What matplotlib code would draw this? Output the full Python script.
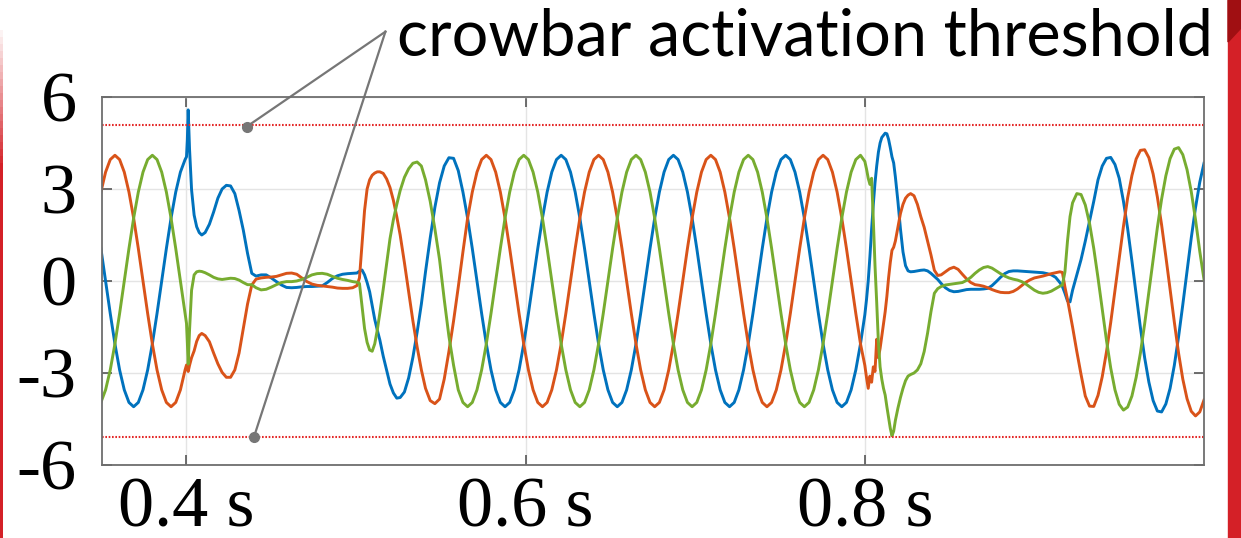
import numpy as np
import matplotlib.pyplot as plt
from matplotlib.patches import Rectangle, Polygon

# rotor currents (kA) of the three phases: a = blue, b = orange, c = green
# steady parts are sampled every dt seconds (about 15 deg of the slip frequency)
dt = 0.002758

# before the first dip
t_pre = 0.3578 + dt * np.arange(-3, 16)
ia_pre = [1.06, 0.00, -1.06, -2.05, -2.90, -3.55, -3.96, -4.10, -3.96, -3.55,
          -2.90, -2.05, -1.06, 0.00, 1.06, 2.05, 2.90, 3.55, 3.96]
ib_pre = [2.90, 3.55, 3.96, 4.10, 3.96, 3.55, 2.90, 2.05, 1.06, 0.00,
          -1.06, -2.05, -2.90, -3.55, -3.96, -4.10, -3.96, -3.55, -2.90]
ic_pre = [-3.96, -3.55, -2.90, -2.05, -1.06, 0.00, 1.06, 2.05, 2.90, 3.55,
          3.96, 4.10, 3.96, 3.55, 2.90, 2.05, 1.06, 0.00, -1.06]

# first dip, crowbar on, recovery
t_dip1 = [0.4000, 0.4005, 0.4010, 0.4018, 0.4030, 0.4045, 0.4060, 0.4075, 0.4090, 0.4110,
          0.4135, 0.4160, 0.4185, 0.4210, 0.4235, 0.4260, 0.4285, 0.4310, 0.4335, 0.4360,
          0.4385, 0.4410, 0.4440, 0.4470, 0.4500, 0.4530, 0.4560, 0.4590, 0.4620, 0.4650,
          0.4680, 0.4710, 0.4740, 0.4770, 0.4800, 0.4830, 0.4860, 0.4890, 0.4920, 0.4950,
          0.4980, 0.5005, 0.5020, 0.5035, 0.5050, 0.5065, 0.5080, 0.5095, 0.5110, 0.5125,
          0.5140, 0.5160, 0.5180, 0.5200, 0.5220, 0.5240, 0.5260, 0.5285, 0.5310, 0.5335,
          0.5360, 0.5385]
ia_dip1 = [4.05, 4.6, 5.58, 4.3, 2.97, 2.15, 1.77, 1.58, 1.50, 1.58,
           1.85, 2.25, 2.7, 3.0, 3.12, 3.1, 2.85, 2.3, 1.66, 0.9,
           0.25, 0.16, 0.2, 0.2, 0.1, -0.02, -0.13, -0.21, -0.22, -0.21,
           -0.19, -0.18, -0.18, -0.17, -0.16, -0.05, 0.08, 0.17, 0.22, 0.24,
           0.25, 0.26, 0.32, 0.36, 0.2, -0.05, -0.35, -0.8, -1.25, -1.6,
           -1.92, -2.45, -2.9, -3.36, -3.65, -3.82, -3.80, -3.62, -3.16, -2.49,
           -1.67, -0.75]
ib_dip1 = [-2.74, -2.8, -2.95, -2.75, -2.5, -2.28, -1.97, -1.78, -1.71, -1.78,
           -1.98, -2.35, -2.7, -2.98, -3.14, -3.14, -2.9, -2.35, -1.55, -0.75,
           -0.13, 0.06, 0.1, 0.12, 0.13, 0.15, 0.2, 0.25, 0.26, 0.22,
           0.1, -0.02, -0.1, -0.14, -0.16, -0.18, -0.2, -0.23, -0.24, -0.24,
           -0.22, -0.15, 0.1, 1.2, 2.3, 3.0, 3.3, 3.45, 3.52, 3.56,
           3.56, 3.51, 3.33, 3.05, 2.63, 2.1, 1.5, 0.6, -0.35, -1.3,
           -2.15, -2.9]
ic_dip1 = [-1.38, -2.0, -2.71, -1.6, -0.3, 0.2, 0.3, 0.32, 0.31, 0.27,
           0.2, 0.12, 0.07, 0.05, 0.07, 0.09, 0.08, 0.03, -0.05, -0.12,
           -0.12, -0.22, -0.29, -0.27, -0.2, -0.12, -0.05, -0.02, -0.02, 0.0,
           0.05, 0.12, 0.2, 0.24, 0.25, 0.22, 0.15, 0.09, 0.05, 0.02,
           -0.02, -0.04, -0.08, -0.8, -1.55, -2.0, -2.25, -2.29, -2.05, -1.6,
           -1.05, -0.27, 0.55, 1.38, 2.0, 2.5, 2.95, 3.38, 3.66, 3.84,
           3.88, 3.75]

# steady operation between the dips
t_mid = 0.5768 + dt * np.arange(-13, 81)
ia_mid = [0.3, 1.4, 2.4, 3.2, 3.75, 4.02, 4.0, 3.6,
          2.90, 2.05, 1.06, 0.00, -1.06, -2.05, -2.90, -3.55, -3.96, -4.10, -3.96, -3.55,
          -2.90, -2.05, -1.06, 0.00, 1.06, 2.05, 2.90, 3.55, 3.96,
          4.10, 3.96, 3.55, 2.90, 2.05, 1.06, 0.00, -1.06, -2.05, -2.90, -3.55, -3.96,
          -4.10, -3.96, -3.55, -2.90, -2.05, -1.06, 0.00, 1.06, 2.05, 2.90, 3.55, 3.96,
          4.10, 3.96, 3.55, 2.90, 2.05, 1.06, 0.00, -1.06, -2.05, -2.90, -3.55, -3.96,
          -4.10, -3.96, -3.55, -2.90, -2.05, -1.06, 0.00, 1.06, 2.05, 2.90, 3.55, 3.96,
          4.10, 3.96, 3.55, 2.90, 2.05, 1.06, 0.00, -1.06, -2.05, -2.90, -3.55, -3.96,
          -4.10, -3.96, -3.55, -2.90, -2.05]
ib_mid = [-3.5, -3.9, -4.0, -3.85, -3.2, -2.3, -1.3, -0.2, 0.95,
          2.05, 2.90, 3.55, 3.96,
          4.10, 3.96, 3.55, 2.90, 2.05, 1.06, 0.00, -1.06, -2.05, -2.90, -3.55, -3.96,
          -4.10, -3.96, -3.55, -2.90, -2.05, -1.06, 0.00, 1.06, 2.05, 2.90, 3.55, 3.96,
          4.10, 3.96, 3.55, 2.90, 2.05, 1.06, 0.00, -1.06, -2.05, -2.90, -3.55, -3.96,
          -4.10, -3.96, -3.55, -2.90, -2.05, -1.06, 0.00, 1.06, 2.05, 2.90, 3.55, 3.96,
          4.10, 3.96, 3.55, 2.90, 2.05, 1.06, 0.00, -1.06, -2.05, -2.90, -3.55, -3.96,
          -4.10, -3.96, -3.55, -2.90, -2.05, -1.06, 0.00, 1.06, 2.05, 2.90, 3.55, 3.96,
          4.10, 3.96, 3.55, 2.90, 2.05, 1.06, 0.00, -1.06, -2.05]
ic_mid = [3.3, 2.6, 1.7, 0.7, -0.6, -1.8, -2.75,
          -3.55, -3.96, -4.10, -3.96, -3.55, -2.90, -2.05, -1.06, 0.00, 1.06, 2.05, 2.90,
          3.55, 3.96,
          4.10, 3.96, 3.55, 2.90, 2.05, 1.06, 0.00, -1.06, -2.05, -2.90, -3.55, -3.96,
          -4.10, -3.96, -3.55, -2.90, -2.05, -1.06, 0.00, 1.06, 2.05, 2.90, 3.55, 3.96,
          4.10, 3.96, 3.55, 2.90, 2.05, 1.06, 0.00, -1.06, -2.05, -2.90, -3.55, -3.96,
          -4.10, -3.96, -3.55, -2.90, -2.05, -1.06, 0.00, 1.06, 2.05, 2.90, 3.55, 3.96,
          4.10, 3.96, 3.55, 2.90, 2.05, 1.06, 0.00, -1.06, -2.05, -2.90, -3.55, -3.96,
          -4.10, -3.96, -3.55, -2.90, -2.05, -1.06, 0.00, 1.06, 2.05, 2.90, 3.55, 3.96,
          4.10]

# second dip
t_dip2 = [0.8000, 0.8010, 0.8020, 0.8030, 0.8040, 0.8050, 0.8060, 0.8070, 0.8080, 0.8090,
          0.8100, 0.8110, 0.8120, 0.8130, 0.8140, 0.8150, 0.8160, 0.8170, 0.8180, 0.8195,
          0.8210, 0.8225, 0.8240, 0.8255, 0.8270, 0.8290, 0.8310, 0.8330, 0.8350, 0.8370,
          0.8390, 0.8410, 0.8430, 0.8450, 0.8475, 0.8500, 0.8525, 0.8550, 0.8575, 0.8600,
          0.8625, 0.8650, 0.8675, 0.8700, 0.8725, 0.8750, 0.8775, 0.8800, 0.8825, 0.8850,
          0.8875, 0.8900, 0.8925, 0.8950, 0.8975, 0.9000, 0.9025, 0.9050, 0.9075, 0.9100,
          0.9125, 0.9150, 0.9165, 0.9180, 0.9195, 0.9210]
ia_dip2 = [-1.1, -0.6, 0.0, 0.8, 1.7, 2.5, 3.2, 3.75, 4.2, 4.5,
           4.68, 4.75, 4.82, 4.8, 4.62, 4.35, 4.05, 3.85, 3.4, 2.6,
           1.7, 0.95, 0.5, 0.33, 0.30, 0.31, 0.33, 0.35, 0.36, 0.33,
           0.25, 0.15, 0.05, -0.08, -0.22, -0.31, -0.35, -0.34, -0.31, -0.28,
           -0.27, -0.27, -0.27, -0.26, -0.24, -0.15, -0.02, 0.12, 0.24, 0.31,
           0.33, 0.33, 0.32, 0.31, 0.30, 0.29, 0.28, 0.27, 0.24, 0.2,
           0.12, -0.05, -0.18, -0.4, -0.65, -0.68]
ib_dip2 = [-2.75, -3.15, -3.5, -3.1, -3.3, -2.8, -2.95, -1.9, -2.5, -2.2,
           -1.8, -1.4, -1.0, -0.5, 0.1, 0.6, 1.0, 1.1, 1.3, 1.75,
           2.2, 2.5, 2.7, 2.8, 2.85, 2.78, 2.5, 2.1, 1.75, 1.3,
           0.85, 0.35, 0.18, 0.2, 0.3, 0.4, 0.45, 0.38, 0.22, 0.07,
           -0.05, -0.12, -0.14, -0.17, -0.22, -0.28, -0.33, -0.37, -0.38, -0.38,
           -0.34, -0.26, -0.15, -0.04, 0.04, 0.1, 0.13, 0.16, 0.2, 0.24,
           0.27, 0.3, 0.28, -0.2, -0.6, -1.05]
ic_dip2 = [3.9, 3.65, 3.35, 3.15, 3.35, 2.0, 0.5, -0.7, -2.0, -2.8,
           -3.2, -3.5, -3.72, -4.1, -4.45, -4.8, -5.05, -4.9, -4.55, -4.15,
           -3.8, -3.5, -3.25, -3.1, -3.05, -3.0, -2.9, -2.7, -2.3, -1.7,
           -1.0, -0.4, -0.25, -0.18, -0.13, -0.11, -0.09, -0.07, -0.05, 0.02,
           0.12, 0.25, 0.36, 0.44, 0.47, 0.42, 0.33, 0.24, 0.16, 0.1,
           0.06, 0.03, -0.02, -0.1, -0.2, -0.3, -0.37, -0.4, -0.38, -0.33,
           -0.25, -0.17, -0.13, 0.3, 1.3, 2.1]

# after the crowbar is removed
t_post = np.linspace(0.9225, 1.0, 32)
ia_post = [-0.3, 0.2, 0.7, 1.3, 1.95, 2.6, 3.3, 3.75, 4.0, 4.03,
           3.8, 3.35, 2.6, 1.7, 0.65, -0.44, -1.52, -2.5, -3.3, -3.9,
           -4.24, -4.27, -4.01, -3.5, -2.75, -1.82, -0.77, 0.33, 1.41, 2.39,
           3.22, 3.84]
ib_post = [-1.5, -2.3, -3.05, -3.75, -4.08, -4.09, -3.73, -3.12, -2.31, -1.35,
           -0.3, 0.77, 1.78, 2.72, 3.44, 3.98, 4.26, 4.28, 4.02, 3.49,
           2.74, 1.83, 0.8, -0.28, -1.34, -2.35, -3.2, -3.84, -4.25, -4.4,
           -4.27, -3.88]
ic_post = [2.55, 2.85, 2.82, 2.48, 1.88, 1.06, 0.10, -0.93, -1.94, -2.84,
           -3.55, -4.02, -4.21, -4.11, -3.75, -3.14, -2.35, -1.40, -0.35, 0.72,
           1.74, 2.67, 3.43, 3.99, 4.30, 4.35, 4.12, 3.63, 2.91, 2.0,
           0.97, 0.05]

threshold = 5.1
x_ticks = [0.4, 0.6, 0.8]
x_labels = ['0.4 s', '0.6 s', '0.8 s']
y_ticks = [-6, -3, 0, 3, 6]
y_labels = ['-6', '-3', '0', '3', '6']

t = np.concatenate([t_pre, t_dip1, t_mid, t_dip2, t_post])
ia = np.concatenate([ia_pre, ia_dip1, ia_mid, ia_dip2, ia_post])
ib = np.concatenate([ib_pre, ib_dip1, ib_mid, ib_dip2, ib_post])
ic = np.concatenate([ic_pre, ic_dip1, ic_mid, ic_dip2, ic_post])

W, H = 1241, 538
plt.rcParams['font.family'] = ['Liberation Serif', 'DejaVu Serif']
fig = plt.figure(figsize=(W / 100, H / 100), dpi=100)
ax = fig.add_axes([101.7 / W, 1 - 465 / H, 1102.3 / W, 368 / H])

ax.plot(t, ia, color='#0072BD', lw=2.1)
ax.plot(t, ib, color='#D95319', lw=2.1)
ax.plot(t, ic, color='#77AC30', lw=2.1)
for v in (threshold, -threshold):
    ax.axhline(v, color='#E52A2A', lw=1.5, ls=(0, (0.8, 0.8)))

ax.set_xlim(0.35, 1.0)
ax.set_ylim(-6, 6)
ax.set_xticks(x_ticks)
ax.set_xticklabels(x_labels)
ax.set_yticks(y_ticks)
ax.set_yticklabels(y_labels)
ax.tick_params(direction='in', length=7, width=1.2, color='#555555',
               top=True, right=True, labelsize=52)
ax.tick_params(axis='x', pad=8)
ax.tick_params(axis='y', pad=18)
ax.grid(color='#e4e4e4', lw=1)
for s in ax.spines.values():
    s.set_color('#6e6e6e')
    s.set_linewidth(1.3)

# callout to the two threshold lines
apex = (0.5173, 8.13)
for tx, ty in [(0.4354, threshold - 0.07), (0.4397, -threshold)]:
    ax.plot([apex[0], tx], [apex[1], ty], color='#767676', lw=1.6, clip_on=False)
    ax.plot(tx, ty, 'o', color='#767676', ms=7, clip_on=False)

txt = fig.text(397 / W, 1 - 56 / H, 'crowbar activation threshold',
               family=['Lato', 'DejaVu Sans'], fontsize=48, va='baseline', ha='left')
fig.canvas.draw()
w = txt.get_window_extent().width
txt.set_fontsize(48 * 815 / w)

# red slide border
fig.patches.append(Rectangle((1228 / W, 0), 13 / W, 1, transform=fig.transFigure,
                             color='#D42027', zorder=0))
fig.patches.append(Polygon([(1228 / W, 1), (1, 1), (1, 1 - 28 / H), (1228 / W, 1 - 42 / H)],
                           closed=True, transform=fig.transFigure, color='#A00F12', zorder=0))
n = 20
for i in range(n):
    y0 = 1 - (30 + 140 * (i + 1) / n) / H
    fig.patches.append(Rectangle((0, y0), 3 / W, 140 / n / H, transform=fig.transFigure,
                                 color='#D42027', alpha=(i + 1) / n, zorder=0, lw=0))
fig.patches.append(Rectangle((0, 0), 3 / W, 1 - 170 / H, transform=fig.transFigure,
                             color='#D42027', zorder=0, lw=0))

fig.savefig('out.png', dpi=100)
